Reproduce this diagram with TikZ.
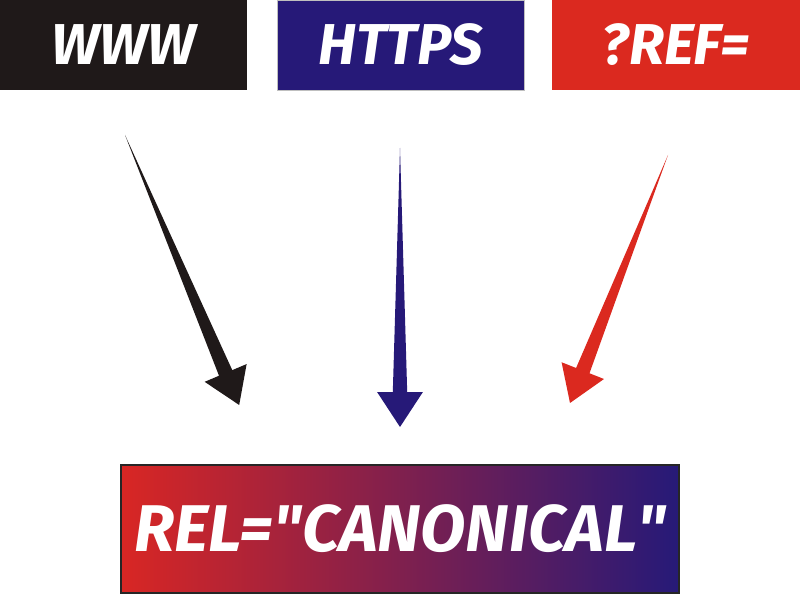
\documentclass[tikz,border=0pt]{standalone}
\usepackage{fontspec}
\setmainfont{Fira Sans}
\usepackage{tikz}
\usetikzlibrary{calc,positioning}
\usepackage{xcolor}
\definecolor{nightblack}{rgb}{0.12, 0.10, 0.10}
\definecolor{indigoblue}{rgb}{0.15, 0.10, 0.47}
\definecolor{signalred}{rgb}{0.86, 0.16, 0.12}
\definecolor{gradred}{rgb}{0.85, 0.15, 0.14}
\definecolor{gradblue}{rgb}{0.15, 0.10, 0.47}

\begin{document}
\begin{tikzpicture}
        % Define the box and arrow styles
        \tikzstyle{tag}=[minimum width=6.18cm, minimum height=2.25cm, inner sep=0pt, text=white, font=\fontsize{41}{41}\selectfont\bfseries\itshape]

        \useasboundingbox (0,0) rectangle (20,14.85);

        % Top boxes
        \node (www)[tag, fill=nightblack] at (3.09,13.725) {WWW};
        \node (https)[tag, fill=indigoblue, draw=black!25, line width=0.4pt] at (10.01,13.725) {HTTPS};
        \node (ref)[tag, fill=signalred] at (16.9,13.725) {?REF=};

        % Bottom box with the colour ramp
        \node (canon)[tag, minimum width=13.95cm, minimum height=3.2cm, left color=gradred, right color=gradblue, draw=black!85, line width=0.8pt, font=\fontsize{47}{47}\selectfont\bfseries\itshape] at (10,1.625) {REL=\textquotedbl CANONICAL\textquotedbl};

        % Arrow tails and tips
        \coordinate (wwwtail) at (3.125,11.475);
        \coordinate (wwwtip) at (5.98,4.725);
        \coordinate (httpstail) at (10.0,11.15);
        \coordinate (httpstip) at (10.0,4.175);
        \coordinate (reftail) at (16.7,10.975);
        \coordinate (reftip) at (14.25,4.775);

        % Tapered arrows
        \foreach \a/\c in {www/nightblack, https/indigoblue, ref/signalred} {
            \coordinate (base) at ($(\a tip)!0.87cm!(\a tail)$);
            \fill[\c] (\a tail) -- ($(base)!0.18cm!90:(\a tip)$) -- ($(base)!0.57cm!90:(\a tip)$) -- (\a tip)
                -- ($(base)!0.57cm!-90:(\a tip)$) -- ($(base)!0.18cm!-90:(\a tip)$) -- cycle;
        }
    \end{tikzpicture}
\end{document}
